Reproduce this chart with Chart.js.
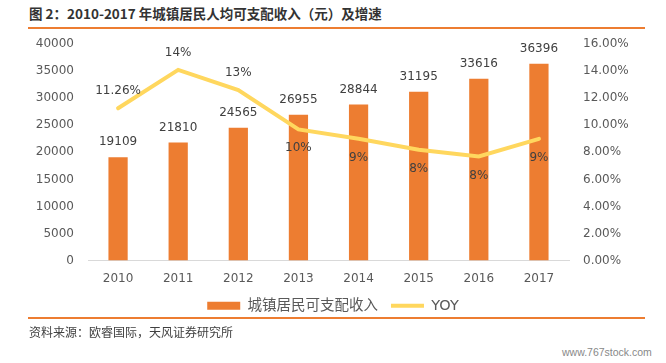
<!DOCTYPE html>
<html>
<head>
<meta charset="utf-8">
<script src="https://cdn.jsdelivr.net/npm/chart.js@4/dist/chart.umd.min.js"></script>
<style>
  body { margin: 0; background: #fff; }
  #page { position: relative; width: 666px; height: 363px; overflow: hidden; font-family: "Noto Sans CJK SC", "DejaVu Sans", sans-serif; }
  #title { position: absolute; left: 29px; top: 3px; font-size: 13.5px; font-weight: bold; color: #333; white-space: nowrap; line-height: 20px; }
  .rule { position: absolute; left: 28px; width: 617px; height: 2px; background: #ED7D31; }
  #chartBox { position: absolute; left: 0; top: 23px; width: 666px; height: 300px; }
  #source { position: absolute; left: 29px; top: 324px; font-size: 12px; color: #404040; line-height: 16px; }
  #mark { position: absolute; left: 562px; top: 346px; font-family: "Liberation Sans", sans-serif; font-size: 10.5px; color: #888; }
</style>
</head>
<body>
<div id="page">
  <div id="title">图 2：2010-2017 年城镇居民人均可支配收入（元）及增速</div>
  <div class="rule" style="top:27px"></div>
  <div id="chartBox"><canvas id="chart"></canvas></div>
  <div class="rule" style="top:317px"></div>
  <div id="source">资料来源：欧睿国际，天风证券研究所</div>
  <div id="mark">www.767stock.com</div>
</div>
<script>
// data
var years = ['2010', '2011', '2012', '2013', '2014', '2015', '2016', '2017'];
var income = [19109, 21810, 24565, 26955, 28844, 31195, 33616, 36396];
var yoy = [11.26, 14.1, 12.6, 9.7, 9.0, 8.2, 7.7, 9.0];
var yoyLabels = ['11.26%', '14%', '13%', '10%', '9%', '8%', '8%', '9%'];

var ORANGE = '#ED7D31';
var YELLOW = '#FFD75E';
var tickFont = { family: 'DejaVu Sans', size: 12 };

// where each yoy label goes relative to its point
var yoyAbove = [true, true, true, false, false, false, false, false];

var valueLabels = {
    id: 'valueLabels',
    afterDatasetsDraw: function(chart) {
        var ctx = chart.ctx;
        ctx.save();
        ctx.font = '12px "DejaVu Sans"';
        ctx.fillStyle = '#404040';
        ctx.textAlign = 'center';
        ctx.textBaseline = 'middle';
        chart.getDatasetMeta(0).data.forEach(function(el, i) {
            ctx.fillText(String(income[i]), el.x, el.y - 15);
        });
        chart.getDatasetMeta(1).data.forEach(function(el, i) {
            ctx.fillText(yoyLabels[i], el.x, yoyAbove[i] ? el.y - 17 : el.y + 19);
        });
        ctx.restore();
    }
};

var chart = new Chart(document.getElementById('chart'), {
    type: 'bar',
    data: {
        labels: years,
        datasets: [{
            label: '城镇居民可支配收入',
            data: income,
            backgroundColor: ORANGE,
            borderWidth: 0,
            categoryPercentage: 1,
            barPercentage: 0.32,
            yAxisID: 'y',
            order: 1
        }, {
            type: 'line',
            label: 'YOY',
            data: yoy,
            borderColor: YELLOW,
            backgroundColor: YELLOW,
            borderWidth: 4,
            borderCapStyle: 'round',
            pointRadius: 0,
            tension: 0,
            yAxisID: 'y1',
            order: 0
        }]
    },
    options: {
        responsive: true,
        maintainAspectRatio: false,
        animation: false,
        layout: { autoPadding: false, padding: { top: 12, left: 0, right: 0, bottom: 0 } },
        plugins: {
            tooltip: { enabled: false },
            legend: {
                position: 'bottom',
                labels: {
                    color: '#595959',
                    font: { family: '"DejaVu Sans", "Noto Sans CJK SC"', size: 14.5 },
                    usePointStyle: true,
                    pointStyleWidth: 33,
                    boxHeight: 8,
                    padding: 13,
                    generateLabels: function(chart) {
                        var items = Chart.defaults.plugins.legend.labels.generateLabels(chart);
                        items.sort(function(a, b) { return a.datasetIndex - b.datasetIndex; });
                        items.forEach(function(it) {
                            if (it.datasetIndex === 0) {
                                it.pointStyle = 'rect';
                                it.lineWidth = 0;
                            } else {
                                it.pointStyle = 'line';
                                it.lineWidth = 4;
                                it.strokeStyle = YELLOW;
                            }
                        });
                        return items;
                    }
                }
            }
        },
        scales: {
            x: {
                grid: { display: false, drawTicks: false },
                border: { display: true, color: '#D9D9D9', width: 1 },
                ticks: { color: '#595959', font: tickFont, padding: 11 },
                afterFit: function(s) { s.height = 25; }
            },
            y: {
                position: 'left',
                min: 0,
                max: 40000,
                grid: { display: false, drawTicks: false },
                border: { display: false },
                ticks: {
                    stepSize: 5000,
                    color: '#595959',
                    font: tickFont,
                    padding: 14,
                    callback: function(v) { return String(v); }
                },
                afterFit: function(s) { s.width = 88; }
            },
            y1: {
                position: 'right',
                min: 0,
                max: 16,
                grid: { display: false, drawTicks: false },
                border: { display: false },
                ticks: {
                    stepSize: 2,
                    color: '#595959',
                    font: tickFont,
                    padding: 14,
                    callback: function(v) { return v.toFixed(2) + '%'; }
                },
                afterFit: function(s) { s.width = 97; }
            }
        }
    },
    plugins: [valueLabels]
});
</script>
</body>
</html>
